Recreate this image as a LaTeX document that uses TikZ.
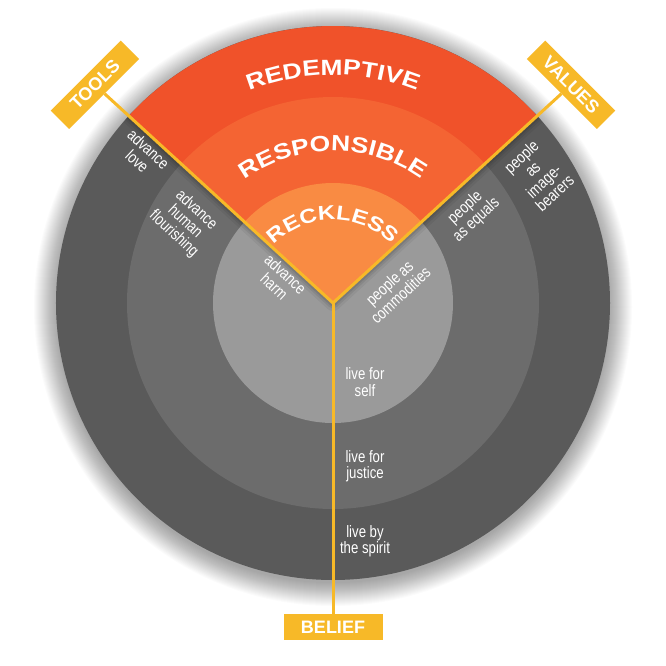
\documentclass[tikz,border=0pt]{standalone}
\usepackage{fontspec}
\setmainfont{Liberation Sans}
\newfontfamily\widebold[FakeStretch=1.2]{Liberation Sans}
\newfontfamily\narrowfont[FakeStretch=0.8]{Liberation Sans}
\usetikzlibrary{decorations.text}
\definecolor{gOuter}{HTML}{5A5A5A}
\definecolor{gMid}{HTML}{6C6C6C}
\definecolor{gIn}{HTML}{9A9A9A}
\definecolor{oOuter}{HTML}{F0522A}
\definecolor{oMid}{HTML}{F46433}
\definecolor{oIn}{HTML}{F98B43}
\definecolor{gold}{HTML}{F7B928}
\begin{document}
\begin{tikzpicture}[x=1pt,y=1pt,
  tag/.style={fill=gold, text=white, font=\bfseries\fontsize{18}{18}\selectfont,
    minimum width=99pt, minimum height=26pt, inner sep=0pt},
  note/.style={text=white, font=\narrowfont\fontsize{16.5}{16.5}\selectfont, align=center, inner sep=0pt},
  spoke/.style={draw=gold, line width=3pt},
  arclabel/.style={decorate, decoration={text along path, text align=center, text color=white, text={#1}}}
]
\useasboundingbox (-333,-362) rectangle (333,303);
\fill[white] (-333,-362) rectangle (333,303);
% soft shadow around the disc
\foreach \i in {1,...,24} \fill[black,opacity=0.016] (0,-4) circle ({275+\i});
% rings
\fill[gOuter] (0,0) circle (277);
\fill[gMid] (0,0) circle (206);
\fill[gIn] (0,0) circle (120);
% shadow of the wedge
\begin{scope}
  \clip (0,0) circle (277);
  \foreach \w/\o in {16/0.05, 11/0.07, 7/0.09}
    \draw[line width=\w pt, black, opacity=\o, line join=round] (137.5:300) -- (0,0) -- (42.5:300);
\end{scope}
% wedge sectors
\fill[oOuter] (0,0) -- (42.5:277) arc[start angle=42.5, end angle=137.5, radius=277] -- cycle;
\fill[oMid] (0,0) -- (42.5:206) arc[start angle=42.5, end angle=137.5, radius=206] -- cycle;
\fill[oIn] (0,0) -- (42.5:120) arc[start angle=42.5, end angle=137.5, radius=120] -- cycle;
% curved labels
\path[arclabel={|\widebold\bfseries\fontsize{22}{22}\selectfont|REDEMPTIVE}]
  (150:228) arc[start angle=150, end angle=30, radius=228];
\path[arclabel={|\widebold\bfseries\fontsize{22}{22}\selectfont|RESPONSIBLE}]
  (150:152) arc[start angle=150, end angle=30, radius=152];
\path[arclabel={|\widebold\bfseries\fontsize{20}{20}\selectfont|RECKLESS}]
  (160:83) arc[start angle=160, end angle=20, radius=83];
% centre and tag boxes
\coordinate (O) at (0,0);
\node[tag, rotate=45] (tools) at (137.5:323) {TOOLS};
\node[tag, rotate=-45] (values) at (42.5:323) {VALUES};
\node[tag] (belief) at (0,-324) {BELIEF};
\draw[spoke] (O) -- (tools);
\draw[spoke] (O) -- (values);
\draw[spoke] (O) -- (belief);
% ring texts
\node[note, rotate=-43] (t1) at (-190,148) {advance\\love};
\node[note, rotate=-43] (t2) at (-148,81) {advance\\human\\flourishing};
\node[note, rotate=-43] (t3) at (-53,23) {advance\\harm};
\node[note, rotate=42.5] (t4) at (62,14) {people as\\commodities};
\node[note, rotate=42.5] (t5) at (138,89) {people\\as equals};
\node[note, rotate=42.5] (t6) at (205,128) {people\\as\\image-\\bearers};
\node[note] (t7) at (32,-79) {live for\\self};
\node[note] (t8) at (32,-163) {live for\\justice};
\node[note] (t9) at (32,-238) {live by\\the spirit};
\end{tikzpicture}
\end{document}
